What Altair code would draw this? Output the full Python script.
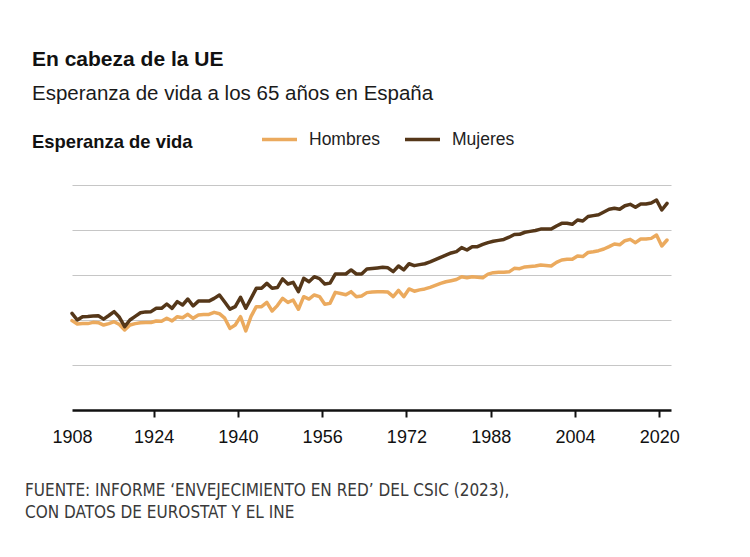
import altair as alt
import pandas as pd

years = list(range(1908, 2022))

hombres = [
    9.93, 9.56, 9.6, 9.6, 9.74, 9.7, 9.44, 9.6, 9.81, 9.5,          # 1908-1917
    8.89, 9.44, 9.6, 9.7, 9.72, 9.72, 9.89, 9.85, 10.19, 9.9,       # 1918-1927
    10.37, 10.25, 10.63, 10.19, 10.56, 10.6, 10.62, 10.85, 10.7, 10.2,  # 1928-1937
    9.07, 9.44, 10.37, 8.78, 10.4, 11.48, 11.48, 11.96, 11.0, 11.6,  # 1938-1947
    12.41, 11.96, 12.22, 11.19, 12.59, 12.33, 12.78, 12.6, 11.74, 11.85,  # 1948-1957
    13.07, 12.95, 12.8, 13.15, 12.59, 12.67, 13.04, 13.12, 13.15, 13.15,  # 1958-1967
    13.1, 12.59, 13.3, 12.59, 13.45, 13.2, 13.35, 13.45, 13.63, 13.85,  # 1968-1977
    14.07, 14.25, 14.37, 14.5, 14.81, 14.7, 14.81, 14.75, 14.7, 15.1,  # 1978-1987
    15.26, 15.3, 15.3, 15.35, 15.74, 15.7, 15.9, 15.95, 16.0, 16.11,  # 1988-1997
    16.05, 16.0, 16.4, 16.67, 16.74, 16.74, 17.11, 17.05, 17.5, 17.59,  # 1998-2007
    17.7, 17.89, 18.15, 18.44, 18.35, 18.81, 18.96, 18.59, 19.0, 19.0,  # 2008-2017
    19.07, 19.44, 18.22, 18.89,                                      # 2018-2021
]

mujeres = [
    10.74, 10.0, 10.37, 10.4, 10.45, 10.48, 10.1, 10.5, 10.93, 10.3,  # 1908-1917
    9.26, 10.0, 10.4, 10.8, 10.9, 10.93, 11.3, 11.3, 11.78, 11.3,     # 1918-1927
    12.04, 11.67, 12.33, 11.56, 12.1, 12.1, 12.1, 12.4, 12.78, 12.0,  # 1928-1937
    11.2, 11.48, 12.52, 11.3, 12.4, 13.52, 13.52, 14.07, 13.52, 13.6,  # 1938-1947
    14.56, 14.0, 14.19, 13.15, 14.63, 14.26, 14.81, 14.6, 14.0, 14.1,  # 1948-1957
    15.11, 15.11, 15.11, 15.56, 15.11, 15.11, 15.67, 15.72, 15.78, 15.85,  # 1958-1967
    15.8, 15.37, 16.0, 15.56, 16.25, 16.04, 16.15, 16.25, 16.45, 16.7,  # 1968-1977
    16.96, 17.2, 17.45, 17.6, 18.04, 17.78, 18.15, 18.15, 18.4, 18.6,  # 1978-1987
    18.75, 18.85, 18.95, 19.2, 19.5, 19.52, 19.75, 19.85, 19.95, 20.1,  # 1988-1997
    20.1, 20.1, 20.45, 20.74, 20.74, 20.63, 21.11, 21.0, 21.5, 21.6,  # 1998-2007
    21.7, 22.0, 22.3, 22.41, 22.3, 22.7, 22.85, 22.52, 22.89, 22.89,  # 2008-2017
    23.0, 23.33, 22.22, 22.96,                                       # 2018-2021
]

series_names = ["Hombres", "Mujeres"]
series_colors = ["#EBAA5E", "#553719"]
x_tick_values = [1908.5, 1924, 1940, 1956, 1972, 1988, 2004, 2020]
y_grid_values = [5, 10, 15, 20, 25]

title_text = "En cabeza de la UE"
subtitle_text = "Esperanza de vida a los 65 años en España"
axis_title_text = "Esperanza de vida"
source_text = "FUENTE: INFORME ‘ENVEJECIMIENTO EN RED’ DEL CSIC (2023),\nCON DATOS DE EUROSTAT Y EL INE"

df = pd.DataFrame({
    "year": years + years,
    "value": hombres + mujeres,
    "serie": [series_names[0]] * len(years) + [series_names[1]] * len(years),
})

SANS = "Liberation Sans, Arial, Helvetica, sans-serif"
NARROW = "Liberation Sans Narrow, Arial Narrow, DejaVu Sans Condensed, sans-serif"

lines = alt.Chart(df).transform_calculate(
    t="datum.year + 0.5"
).mark_line(strokeWidth=3.5, strokeJoin="round", strokeCap="round").encode(
    x=alt.X(
        "t:Q",
        scale=alt.Scale(domain=[1908.5, 2022.25], nice=False, zero=False),
        axis=alt.Axis(
            values=x_tick_values,
            labelExpr="floor(datum.value)",
            title=None,
            grid=False,
            domainColor="#111111",
            domainWidth=2.5,
            tickColor="#111111",
            tickWidth=2,
            tickSize=7,
            tickOpacity={"condition": {"test": "datum.value < 1910", "value": 0}, "value": 1},
            labelPadding=11,
            labelFont=SANS,
            labelFontSize=18,
            labelColor="#111111",
            labelFlush=False,
            labelOverlap=False,
        ),
    ),
    y=alt.Y(
        "value:Q",
        scale=alt.Scale(domain=[0, 25], nice=False, zero=True),
        axis=alt.Axis(
            values=y_grid_values,
            labels=False,
            ticks=False,
            domain=False,
            title=None,
            grid=True,
            gridColor="#c6c6c6",
            gridWidth=1.2,
        ),
    ),
    color=alt.Color(
        "serie:N",
        scale=alt.Scale(domain=series_names, range=series_colors),
        legend=alt.Legend(
            orient="none",
            legendX=188,
            legendY=-65,
            direction="horizontal",
            title=None,
            symbolType="stroke",
            symbolSize=1225,
            symbolStrokeWidth=3.5,
            labelFont=SANS,
            labelFontSize=17.5,
            labelColor="#222222",
            labelOffset=10,
            columnPadding=18,
            padding=0,
        ),
    ),
)


def text_layer(txt, x, y, size, weight="normal", font=SANS, color="#111111", line_height=None):
    kw = dict(align="left", baseline="alphabetic", font=font, fontSize=size,
              fontWeight=weight, color=color)
    if line_height is not None:
        kw["lineBreak"] = "\n"
        kw["lineHeight"] = line_height
    return alt.Chart(pd.DataFrame({"t": [txt]})).mark_text(**kw).encode(
        x=alt.value(x), y=alt.value(y), text="t:N"
    )


title = text_layer(title_text, -40, -119, 21, "bold")
subtitle = text_layer(subtitle_text, -40, -85, 20.5, "normal", color="#1a1a1a")
ytitle = text_layer(axis_title_text, -40, -37, 18.4, "bold")
source = text_layer(source_text, -47, 311, 17, "normal", font=NARROW, color="#3a3a3a", line_height=21.5)

chart = alt.layer(lines, title, subtitle, ytitle, source).properties(
    width=599,
    height=225,
    padding={"left": 64, "top": 177, "right": 70, "bottom": 130},
    autosize=alt.AutoSizeParams(type="none"),
    background="white",
).configure_view(stroke=None)

chart.save("out.html", embed_options={"renderer": "svg", "actions": False})
